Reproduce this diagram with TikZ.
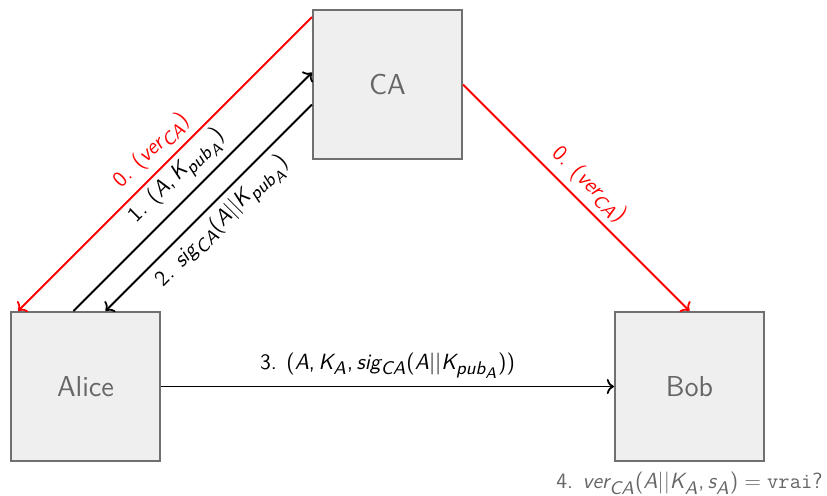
\documentclass[tikz,border=0pt]{standalone}
\renewcommand{\familydefault}{\sfdefault}
\usepackage[italic]{mathastext}
\usepackage{tikz}
\usetikzlibrary{arrows.meta}

\definecolor{boxfill}{HTML}{EFEFEF}
\definecolor{boxline}{HTML}{707070}
\definecolor{boxtext}{HTML}{666666}

\begin{document}
\begin{tikzpicture}[x=0.5pt,y=0.5pt,
    entity/.style={draw=boxline, line width=1pt, fill=boxfill, text=boxtext,
      minimum size=74.5pt, inner sep=0pt, font=\fontsize{14.4}{17}\selectfont},
    msg/.style={->, line width=0.9pt},
    lbl/.style={font=\fontsize{11}{13}\selectfont, sloped}]
    \useasboundingbox (0,0) rectangle (827,495);

    % entita
    \node[entity] (ca) at (387.5,410.5) {CA};
    \node[entity] (alice) at (85.5,108.5) {Alice};
    \node[entity] (bob) at (689.5,108.5) {Bob};

    % cle de verification
    \draw[msg, red] ([yshift=-4pt]ca.north west) -- ([xshift=4pt]alice.north west)
        node[lbl, midway, above] {0. $(ver_{CA})$};
    \draw[msg, red] (ca.east) -- (bob.north)
        node[lbl, midway, above] {0. $(ver_{CA})$};

    % demande et certificat
    \draw[msg] ([xshift=-6pt]alice.north) -- ([yshift=6pt]ca.west)
        node[lbl, midway, above] {1. $(A, K_{pub_A})$};
    \draw[msg] ([yshift=-10pt]ca.west) -- ([xshift=10pt]alice.north)
        node[lbl, midway, below] {2. $sig_{CA}(A||K_{pub_A})$};

    % envoi a Bob
    \draw[msg] (alice) -- (bob)
        node[lbl, midway, above] {3. $(A, K_A, sig_{CA}(A||K_{pub_A}))$};

    % verification
    \node[font=\fontsize{11}{13}\selectfont, text=boxtext, anchor=north, inner sep=0pt]
        (verif) at ([yshift=-5pt]bob.south) {4. $ver_{CA}(A||K_A, s_A) = \mathtt{vrai?}$};
\end{tikzpicture}
\end{document}
